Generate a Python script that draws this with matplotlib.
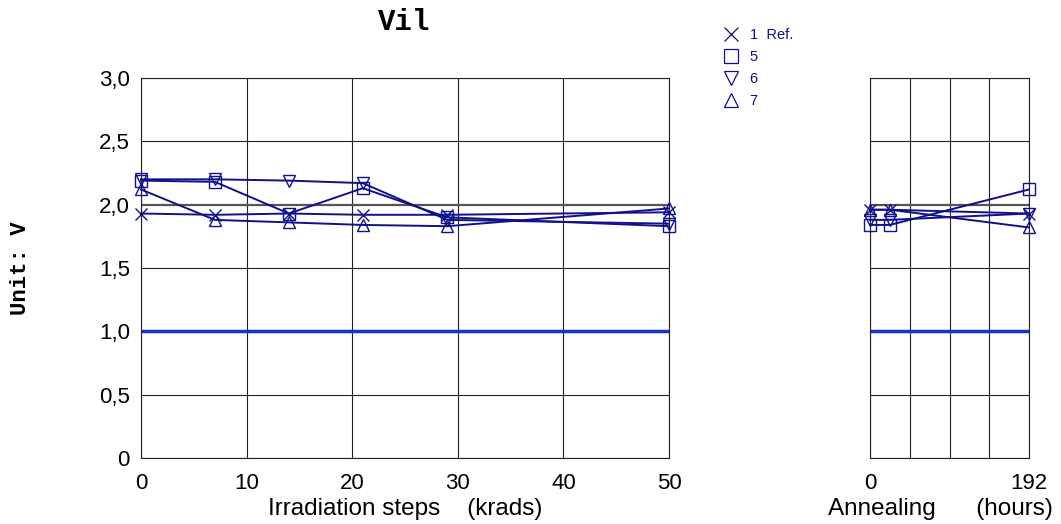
import matplotlib
matplotlib.use("Agg")
import matplotlib.pyplot as plt
from matplotlib.lines import Line2D

plt.rcParams['font.family'] = ['Liberation Sans', 'DejaVu Sans']

# Data
irr_steps = [0, 7, 14, 21, 29, 50]
ann_steps = [0, 24, 192]
series_names = ["1  Ref.", "5", "6", "7"]
markers = ["x", "s", "v", "^"]
irr_values = [
    [1.93, 1.92, 1.93, 1.92, 1.92, 1.94],   # 1 Ref.
    [2.19, 2.18, 1.93, 2.13, 1.90, 1.83],   # 5
    [2.20, 2.20, 2.19, 2.17, 1.88, 1.85],   # 6
    [2.12, 1.88, 1.86, 1.84, 1.83, 1.97],   # 7
]
ann_values = [
    [1.96, 1.96, 1.93],   # 1 Ref.
    [1.84, 1.84, 2.12],   # 5
    [1.88, 1.88, 1.93],   # 6
    [1.96, 1.96, 1.82],   # 7
]
limit_value = 1.0
y_ticks = [0, 0.5, 1.0, 1.5, 2.0, 2.5, 3.0]
y_ticklabels = ["0", "0,5", "1,0", "1,5", "2,0", "2,5", "3,0"]
irr_ticks = [0, 10, 20, 30, 40, 50]
ann_ticks = [0, 48, 96, 144, 192]
ann_ticklabels = ["0", "", "", "", "192"]

navy = "#10108a"
limit_col = "#1530d8"
grid_col = "#222222"

fig = plt.figure(figsize=(10.61, 5.24), dpi=100)
ax1 = fig.add_axes([141/1061, 1-458/524, 528/1061, 380/524])
ax2 = fig.add_axes([870/1061, 1-458/524, 159/1061, 380/524])

for ax, xs, vals, ticks in [(ax1, irr_steps, irr_values, irr_ticks),
                            (ax2, ann_steps, ann_values, ann_ticks)]:
    ax.set_ylim(0, 3.0)
    ax.set_xlim(ticks[0], ticks[-1])
    ax.set_xticks(ticks)
    ax.set_yticks(y_ticks)
    for t in ticks:
        ax.axvline(t, color=grid_col, lw=0.8, zorder=1)
    for yv in y_ticks:
        if abs(yv - 2.0) < 1e-9:
            ax.axhline(yv, color="#555555", lw=1.6, zorder=1)
        else:
            ax.axhline(yv, color=grid_col, lw=0.8, zorder=1)
    ax.axhline(limit_value, color=limit_col, lw=2.5, zorder=2)
    for v, m in zip(vals, markers):
        ax.plot(xs, v, color=navy, lw=1.4, marker=m, markersize=9,
                markerfacecolor="none", markeredgecolor=navy,
                markeredgewidth=1.0, zorder=3, clip_on=False)
    ax.tick_params(axis="x", length=0, labelsize=16, pad=11)
    ax.tick_params(axis="y", length=0, labelsize=16, pad=8)
    for s in ax.spines.values():
        s.set_color(grid_col)
        s.set_linewidth(0.8)

ax1.set_yticklabels(y_ticklabels)
ax2.set_yticklabels([])
ax2.set_xticklabels(ann_ticklabels)
ax1.set_xlabel("Irradiation steps    (krads)", fontsize=17.5, labelpad=2)
ax2.set_xlabel("Annealing      (hours)", fontsize=17.5, labelpad=2)
ax2.xaxis.set_label_coords(0.44, -0.105)
ax1.xaxis.set_label_coords(0.5, -0.105)

fig.text(404/1061, 1-22/524, "Vil", family="Liberation Mono", weight="bold",
         fontsize=21, ha="center", va="center")
fig.text(21/1061, 1-268/524, "Unit: V", family="Liberation Mono", weight="bold",
         fontsize=16, ha="center", va="center", rotation=90)

handles = [Line2D([], [], ls="none", marker=m, markersize=10,
                  markerfacecolor="none", markeredgecolor=navy, markeredgewidth=0.9)
           for m in markers]
leg = fig.legend(handles, series_names, loc="upper left",
                 bbox_to_anchor=(716/1061, 1-21/524), frameon=False,
                 fontsize=10.5, handlelength=1.0, handletextpad=0.8,
                 labelspacing=0.55, borderpad=0, labelcolor=navy)

fig.savefig("out.png", dpi=100)
